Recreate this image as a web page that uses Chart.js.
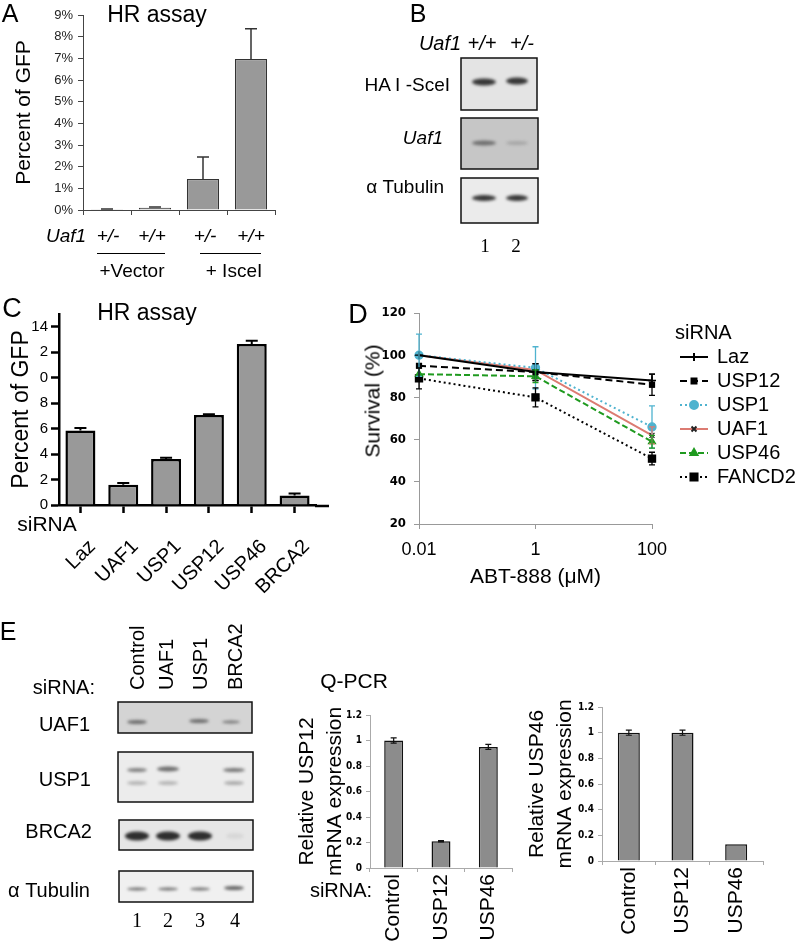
<!DOCTYPE html>
<html><head><meta charset="utf-8">
<script src="https://cdn.jsdelivr.net/npm/chart.js@4.4.0/dist/chart.umd.min.js"></script>
<style>
html,body{margin:0;padding:0;background:#fff;}
body{width:800px;height:945px;position:relative;overflow:hidden;font-family:'Liberation Sans',Arial,sans-serif;color:#000;}
.box{position:absolute;}
.t{position:absolute;white-space:nowrap;line-height:1;}
</style></head><body>
<canvas id="bg" width="800" height="945" style="position:absolute;left:0;top:0;"></canvas>
<div class="box" style="left:0;top:0;width:290px;height:230px"><canvas id="chA"></canvas></div>
<div class="box" style="left:0;top:290px;width:340px;height:330px"><canvas id="chC"></canvas></div>
<div class="box" style="left:340px;top:290px;width:460px;height:300px"><canvas id="chD"></canvas></div>
<div class="box" style="left:290px;top:690px;width:240px;height:255px"><canvas id="chE1"></canvas></div>
<div class="box" style="left:520px;top:680px;width:280px;height:265px"><canvas id="chE2"></canvas></div>
<script>
// ---------- DATA ----------
// Panel A
const aGenotypes = ['+/-', '+/+', '+/-', '+/+'];
const aGroups = ['+Vector', '+ IsceI'];
const aValues = [0.03, 0.1, 1.43, 6.97];
const aErrors = [0.02, 0.04, 1.02, 1.4];
const aTicks = ['0%','1%','2%','3%','4%','5%','6%','7%','8%','9%'];
// Panel C
const cCategories = ['Laz','UAF1','USP1','USP12','USP46','BRCA2'];
const cValues = [5.85, 1.6, 3.62, 7.07, 12.65, 0.75];
const cErrors = [0.2, 0.13, 0.1, 0.06, 0.25, 0.15];
const cTickValues = [0, 2, 4, 6, 8, 10, 12, 14];
const cTickLabels = ['0', '2', '4', '6', '8', '0', '2', '14'];
// Panel D
const dDoses = ['0.01', '1', '100'];
const dSeries = ['Laz', 'USP12', 'USP1', 'UAF1', 'USP46', 'FANCD2'];
const dLaz = [100, 92, 88];      const dLazErr = [0, 4, 3];
const dUSP12 = [95, 92, 86];     const dUSP12Err = [0, 4, 5];
const dUSP1 = [100, 94, 66];     const dUSP1Err = [10, 10, 10];
const dUAF1 = [100, 93, 62];     const dUAF1Err = [0, 0, 4];
const dUSP46 = [91, 90, 59];     const dUSP46Err = [0, 3, 3];
const dFANCD2 = [89, 80, 51];    const dFANCD2Err = [5, 4.5, 3];
const dYTicks = ['20', '40', '60', '80', '100', '120'];
// Panel E (Q-PCR)
const eCategories = ['Control', 'USP12', 'USP46'];
const eUSP12Values = [1.0, 0.21, 0.95];
const eUSP12Errors = [0.02, 0.005, 0.02];
const eUSP46Values = [1.0, 1.0, 0.13];
const eUSP46Errors = [0.02, 0.02, 0];
const eYTicks = ['0', '0.2', '0.4', '0.6', '0.8', '1', '1.2'];
const eBlotLanes = ['Control', 'UAF1', 'USP1', 'BRCA2'];
const eBlotProteins = ['UAF1', 'USP1', 'BRCA2', 'α Tubulin'];
const bBlotProteins = ['HA I -SceI', 'Uaf1', 'α Tubulin'];

// ---------- HELPERS ----------
const SANS = "'Liberation Sans', Arial, sans-serif";
const NARROW = "'Liberation Sans Narrow','DejaVu Sans Condensed',sans-serif";
const F = (size, extra) => Object.assign({family: SANS, size: size}, extra || {});
Chart.defaults.color = '#000';
Chart.defaults.font.family = SANS;
Chart.defaults.animation = false;

const errorBars = {
  id: 'errorBars',
  afterDatasetsDraw(chart) {
    const ctx = chart.ctx;
    chart.data.datasets.forEach((ds, di) => {
      if (!ds.errors) return;
      const meta = chart.getDatasetMeta(di);
      const ys = chart.scales[meta.yAxisID];
      ctx.save();
      ctx.strokeStyle = ds.errorColor || '#000';
      ctx.lineWidth = ds.errorWidth || 1;
      meta.data.forEach((el, i) => {
        const e = ds.errors[i];
        if (!e) return;
        const v = ds.data[i];
        const x = el.x;
        const yTop = ys.getPixelForValue(v + e);
        const yBot = ds.errorUpOnly ? ys.getPixelForValue(v) : ys.getPixelForValue(v - e);
        const cap = ds.errorCap || 4;
        ctx.beginPath();
        ctx.moveTo(x, yBot); ctx.lineTo(x, yTop);
        ctx.moveTo(x - cap, yTop); ctx.lineTo(x + cap, yTop);
        if (!ds.errorUpOnly) { ctx.moveTo(x - cap, yBot); ctx.lineTo(x + cap, yBot); }
        ctx.stroke();
      });
      ctx.restore();
    });
  }
};

function T(str, x, y, o) {
  o = o || {};
  const d = document.createElement('div');
  d.className = 't';
  d.textContent = str;
  d.style.left = x + 'px';
  d.style.top = y + 'px';
  d.style.fontSize = (o.size || 20) + 'px';
  if (o.italic) d.style.fontStyle = 'italic';
  if (o.family) d.style.fontFamily = o.family;
  if (o.up) {
    d.style.transformOrigin = '0 0';
    d.style.transform = 'rotate(-90deg) translate(0,-50%)';
  } else if (o.rot) {
    d.style.transform = 'translate(-50%,-50%) rotate(' + o.rot + 'deg)';
  } else {
    const ax = o.align === 'right' ? '-100%' : o.align === 'left' ? '0' : '-50%';
    d.style.transform = 'translate(' + ax + ',-50%)';
  }
  document.body.appendChild(d);
  return d;
}
function hline(x1, x2, y) {
  const d = document.createElement('div');
  d.style.cssText = 'position:absolute;left:' + x1 + 'px;top:' + y + 'px;width:' + (x2 - x1) + 'px;height:0;border-top:1.5px solid #000;';
  document.body.appendChild(d);
}

// ---------- BLOTS ----------
const bg = document.getElementById('bg').getContext('2d');
function blotBox(x, y, w, h, fill, bands) {
  bg.save();
  bg.fillStyle = fill; bg.fillRect(x, y, w, h);
  bg.beginPath(); bg.rect(x, y, w, h); bg.clip();
  bands.forEach(b => {
    bg.filter = 'blur(' + (b.blur || 1.4) + 'px)';
    bg.fillStyle = 'rgba(25,25,25,' + b.a + ')';
    bg.beginPath(); bg.ellipse(b.x, b.y, b.w / 2, b.h / 2, 0, 0, Math.PI * 2); bg.fill();
  });
  bg.restore();
  bg.strokeStyle = '#111'; bg.lineWidth = 1.5; bg.strokeRect(x, y, w, h);
}
// Panel B
blotBox(461, 58, 76, 52, '#e4e4e4', [{x:484,y:82,w:24,h:7,a:.85},{x:517,y:81,w:22,h:7,a:.85}]);
blotBox(461, 118, 77, 51, '#c6c6c6', [{x:484,y:143,w:24,h:5,a:.5},{x:517,y:143,w:22,h:4,a:.18}]);
blotBox(461, 178, 77, 45, '#ebebeb', [{x:484,y:198,w:24,h:6,a:.85},{x:517,y:198,w:22,h:6,a:.85}]);
// Panel E
blotBox(118, 702, 134, 31, '#d4d4d4', [{x:137,y:722,w:20,h:4,a:.55},{x:199,y:721,w:20,h:4,a:.55},{x:231,y:722,w:18,h:3,a:.5}]);
blotBox(118, 752, 135, 50, '#ececec', [{x:137,y:770,w:20,h:4,a:.5},{x:168,y:769,w:22,h:5,a:.6},{x:234,y:770,w:22,h:4,a:.55},{x:137,y:783,w:20,h:4,a:.25},{x:168,y:783,w:20,h:4,a:.25},{x:234,y:783,w:20,h:4,a:.3}]);
blotBox(119, 820, 134, 30, '#e6e6e6', [{x:137,y:836,w:24,h:9,a:.9},{x:168,y:836,w:24,h:9,a:.9},{x:200,y:836,w:24,h:9,a:.9},{x:235,y:836,w:18,h:6,a:.07}]);
blotBox(119, 871, 134, 31, '#f0f0f0', [{x:137,y:889,w:20,h:3,a:.6},{x:168,y:889,w:20,h:3,a:.6},{x:200,y:889,w:20,h:3,a:.6},{x:234,y:888,w:20,h:4,a:.65}]);

// ---------- TEXT ----------
// A
T('A', 10, 13, {size: 25});
T('HR assay', 157, 14, {size: 23});
T('Uaf1', 66, 235, {size: 19, italic: true});
[108, 152, 205, 251].forEach((x, i) => T(aGenotypes[i], x, 235, {size: 19, italic: true}));
hline(97, 165, 253); hline(200, 261, 253);
T(aGroups[0], 132, 270, {size: 19});
T(aGroups[1], 234, 270, {size: 19});
// B
T('B', 418, 13, {size: 25});
T('Uaf1', 440, 43, {size: 20, italic: true});
T('+/+', 482, 43, {size: 20, italic: true});
T('+/-', 522, 43, {size: 20, italic: true});
T(bBlotProteins[0], 450, 84, {size: 19, align: 'right'});
T(bBlotProteins[1], 443, 137, {size: 19, align: 'right', italic: true});
T(bBlotProteins[2], 444, 186, {size: 19, align: 'right'});
T('1', 485, 245, {size: 19, family: "'Liberation Serif', serif"});
T('2', 516, 245, {size: 19, family: "'Liberation Serif', serif"});
// C
T('C', 12, 308, {size: 27});
T('HR assay', 147, 312, {size: 23});
T('siRNA', 47, 523, {size: 21});
// D
T('D', 358, 314, {size: 27});
T('Survival (%)', 372, 401, {size: 21, rot: -90});
// E
T('E', 8, 631, {size: 25});
T('siRNA:', 95, 687, {size: 20, align: 'right'});
[137, 166, 200, 235].forEach((x, i) => T(eBlotLanes[i], x, 690, {size: 20, up: true}));
[[90, 724], [91, 779], [92, 831], [90, 890]].forEach((p, i) => T(eBlotProteins[i], p[0], p[1], {size: 20, align: 'right'}));
['1', '2', '3', '4'].forEach((n, i) => T(n, [137, 168, 200, 235][i], 920, {size: 20, family: "'Liberation Serif', serif"}));
T('Q-PCR', 354, 680, {size: 21});
T('siRNA:', 341, 890, {size: 20});

const noPlug = {legend: {display: false}, tooltip: {enabled: false}};

// ---------- CHART A ----------
new Chart(document.getElementById('chA'), {
  type: 'bar',
  data: {labels: aGenotypes, datasets: [{data: aValues, errors: aErrors, errorUpOnly: true, errorCap: 6, errorWidth: 1.5, errorColor: '#333',
    backgroundColor: '#999', borderColor: '#333', borderWidth: 1.2, barPercentage: 0.67, categoryPercentage: 1}]},
  options: {responsive: true, maintainAspectRatio: false, animation: false,
    layout: {padding: {top: 15, right: 15, left: 0, bottom: 0}},
    plugins: noPlug,
    scales: {
      x: {afterFit(s) { s.height = 20; }, ticks: {display: false},
        grid: {offset: true, drawOnChartArea: false, tickLength: 5, color: '#444'}, border: {color: '#444'}},
      y: {afterFit(s) { s.width = 83; }, min: 0, max: 9,
        ticks: {stepSize: 1, callback: (v, i) => aTicks[i], font: F(13), color: '#222', padding: 5},
        grid: {drawOnChartArea: false, tickLength: 5, color: '#444'}, border: {color: '#444'},
        title: {display: true, text: 'Percent of GFP', font: F(21), color: '#000', padding: {top: 12, bottom: 0}}}
    }},
  plugins: [errorBars]
});

// ---------- CHART C ----------
const extendAxis = {
  id: 'extendAxis',
  afterDraw(chart) {
    const ctx = chart.ctx, a = chart.chartArea;
    ctx.save(); ctx.strokeStyle = '#000'; ctx.lineWidth = 2.5;
    ctx.beginPath(); ctx.moveTo(a.right - 1, chart.scales.x.top + 1); ctx.lineTo(a.right + 13, chart.scales.x.top + 1); ctx.stroke();
    ctx.restore();
  }
};
new Chart(document.getElementById('chC'), {
  type: 'bar',
  data: {labels: cCategories, datasets: [{data: cValues, errors: cErrors, errorUpOnly: true, errorCap: 6, errorWidth: 2, errorColor: '#000',
    backgroundColor: '#999', borderColor: '#000', borderWidth: 2.5, barPercentage: 0.7, categoryPercentage: 1}]},
  options: {responsive: true, maintainAspectRatio: false, animation: false,
    layout: {padding: {top: 24, right: 24, left: 0, bottom: 0}},
    plugins: noPlug,
    scales: {
      x: {afterFit(s) { s.height = 115; },
        ticks: {font: F(20), color: '#000', minRotation: 45, maxRotation: 45, autoSkip: false, padding: 22, labelOffset: 12},
        grid: {offset: false, drawOnChartArea: false, tickLength: 8, tickWidth: 2.5, tickColor: '#000'},
        border: {color: '#000', width: 2.5}},
      y: {afterFit(s) { s.width = 59; }, min: 0, max: 15,
        afterBuildTicks(s) { s.ticks = cTickValues.map(v => ({value: v})); },
        ticks: {callback: (v, i) => cTickLabels[i], font: F(15), color: '#000', padding: 3},
        grid: {drawOnChartArea: false, tickLength: 8, tickWidth: 2.5, tickColor: '#000'},
        border: {color: '#000', width: 2.5},
        title: {display: true, text: 'Percent of GFP', font: F(23), color: '#000', padding: {top: 8, bottom: 0}}}
    }},
  plugins: [errorBars, extendAxis]
});

// ---------- CHART D ----------
const dLegend = {
  id: 'dLegend',
  afterDraw(chart) {
    const ctx = chart.ctx;
    ctx.save();
    ctx.font = '20px ' + SANS; ctx.fillStyle = '#000'; ctx.textBaseline = 'middle'; ctx.textAlign = 'left';
    ctx.fillText('siRNA', 335, 43);
    chart.data.datasets.forEach((ds, i) => {
      const y = 67 + i * 24;
      ctx.strokeStyle = ds.borderColor; ctx.lineWidth = ds.borderWidth;
      ctx.setLineDash(ds.borderDash || []);
      ctx.beginPath(); ctx.moveTo(340, y); ctx.lineTo(368, y); ctx.stroke();
      ctx.setLineDash([]);
      ctx.fillStyle = ds.pointBackgroundColor; ctx.strokeStyle = ds.pointBorderColor;
      Chart.helpers.drawPoint(ctx, {pointStyle: ds.pointStyle, radius: ds.pointRadius, borderWidth: 1.3, rotation: 0}, 354, y);
      ctx.fillStyle = '#000';
      ctx.fillText(ds.label, 377, y);
    });
    ctx.restore();
  }
};
function dSet(label, data, err, color, dash, style, r, pBorder) {
  return {label: label, data: data, errors: err, errorColor: color, errorWidth: 1.3, errorCap: 3,
    borderColor: color, borderWidth: 2, borderDash: dash, tension: 0, fill: false,
    pointStyle: style, pointRadius: r, pointBackgroundColor: color, pointBorderColor: pBorder || color, pointBorderWidth: 1.3};
}
new Chart(document.getElementById('chD'), {
  type: 'line',
  data: {labels: dDoses, datasets: [
    dSet(dSeries[0], dLaz, dLazErr, '#000', [], 'cross', 4),
    dSet(dSeries[1], dUSP12, dUSP12Err, '#000', [7, 4], 'rect', 3.5),
    dSet(dSeries[2], dUSP1, dUSP1Err, '#4fb3cf', [2, 3], 'circle', 4),
    dSet(dSeries[3], dUAF1, dUAF1Err, '#dc7b72', [], 'crossRot', 3.5, '#222'),
    dSet(dSeries[4], dUSP46, dUSP46Err, '#1f9a1f', [6, 3], 'triangle', 4),
    dSet(dSeries[5], dFANCD2, dFANCD2Err, '#000', [2, 3], 'rect', 5)
  ]},
  options: {responsive: true, maintainAspectRatio: false, animation: false,
    layout: {padding: {top: 23, right: 148, left: 0, bottom: 0}},
    plugins: noPlug,
    scales: {
      x: {afterFit(s) { s.height = 66; }, offset: false,
        ticks: {font: F(18), color: '#000', padding: 10},
        grid: {offset: false, drawOnChartArea: false, tickLength: 5, color: '#999'}, border: {color: '#999'},
        title: {display: true, text: 'ABT-888 (μM)', font: F(21), color: '#000', padding: {top: 0, bottom: 0}}},
      y: {afterFit(s) { s.width = 79; }, min: 20, max: 120,
        ticks: {stepSize: 20, callback: (v, i) => dYTicks[i], font: {family: NARROW, size: 13, weight: 'bold'}, color: '#000', padding: 8},
        grid: {drawOnChartArea: false, tickLength: 5, color: '#999'}, border: {color: '#999'}}
    }},
  plugins: [errorBars, dLegend]
});

// ---------- CHARTS E ----------
function qpcr(id, values, errors, title, barPct, padTop, padRight, yW, xH) {
  new Chart(document.getElementById(id), {
    type: 'bar',
    data: {labels: eCategories, datasets: [{data: values, errors: errors, errorCap: 3, errorWidth: 1.2, errorColor: '#111',
      backgroundColor: '#8c8c8c', borderColor: '#111', borderWidth: 1.5, barPercentage: barPct, categoryPercentage: 1}]},
    options: {responsive: true, maintainAspectRatio: false, animation: false,
      layout: {padding: {top: padTop, right: padRight, left: 0, bottom: 0}},
      plugins: noPlug,
      scales: {
        x: {afterFit(s) { s.height = xH; },
          ticks: {font: F(21), color: '#000', minRotation: 90, maxRotation: 90, autoSkip: false, padding: 2},
          grid: {offset: true, drawOnChartArea: false, tickLength: 4, color: '#aaa'}, border: {color: '#aaa'}},
        y: {afterFit(s) { s.width = yW; }, min: 0, max: 1.2,
          ticks: {stepSize: 0.2, callback: (v, i) => eYTicks[i], font: {family: NARROW, size: 10, weight: 'bold'}, color: '#000', padding: 4},
          grid: {drawOnChartArea: false, tickLength: 4, color: '#aaa'}, border: {color: '#aaa'},
          title: {display: true, text: title, font: F(21, {lineHeight: 1.3}), color: '#000', padding: {top: 4, bottom: 0}}}
      }},
    plugins: [errorBars]
  });
}
qpcr('chE1', eUSP12Values, eUSP12Errors, ['Relative USP12', 'mRNA expression'], 0.4, 25, 18, 80, 77);
qpcr('chE2', eUSP46Values, eUSP46Errors, ['Relative USP46', 'mRNA expression'], 0.41, 27, 37, 82, 84);
</script>
</body></html>
